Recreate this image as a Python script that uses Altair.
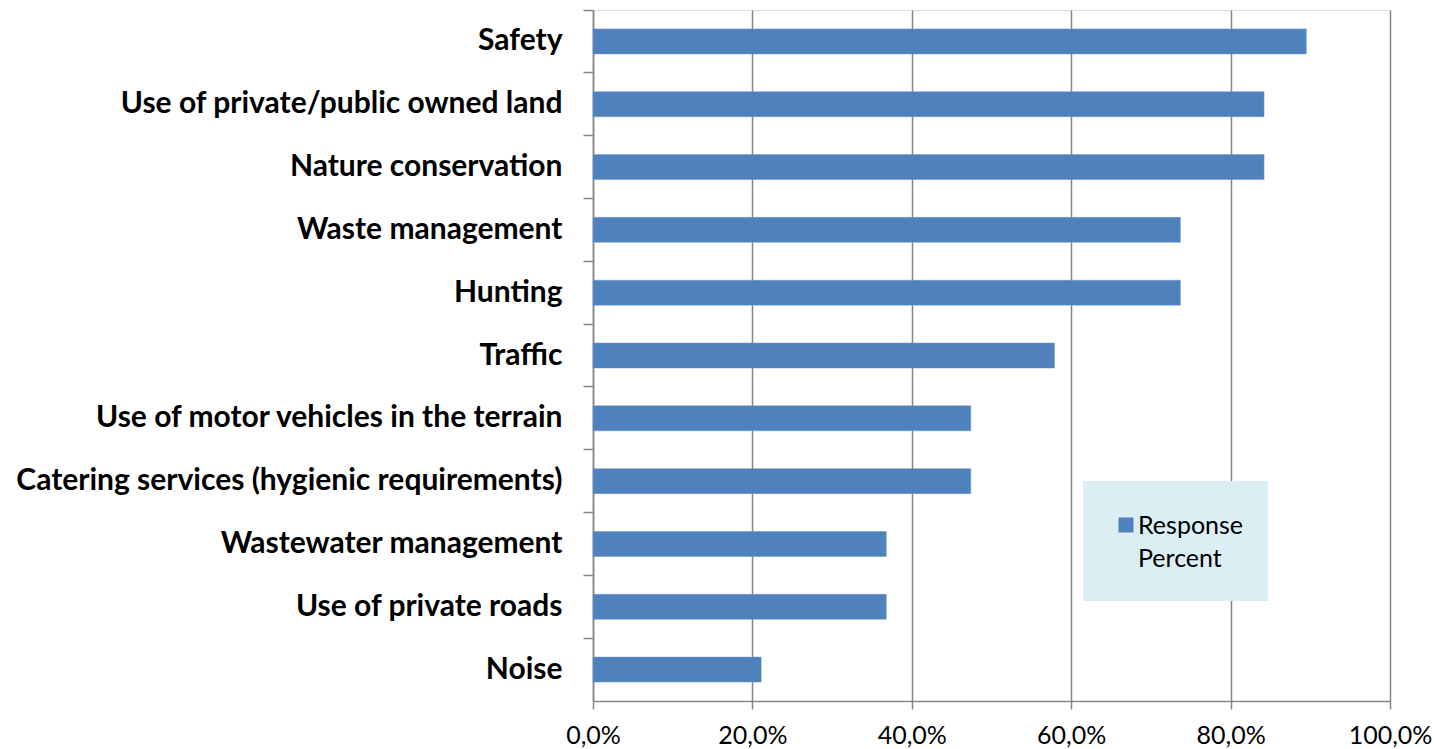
import altair as alt
import pandas as pd

categories = [
    "Safety\u2005",
    "Use of private/public owned land",
    "Nature conservation",
    "Waste management",
    "Hunting",
    "Traffic",
    "Use of motor vehicles in the terrain",
    "Catering services (hygienic requirements)",
    "Wastewater management",
    "Use of private roads",
    "Noise",
]
values = [0.895, 0.842, 0.842, 0.737, 0.737, 0.579, 0.474, 0.474, 0.368, 0.368, 0.211]
series = "Response Percent"
x_ticks = [0, 0.2, 0.4, 0.6, 0.8, 1.0]

df = pd.DataFrame({"category": categories, "value": values})
legend_df = pd.DataFrame({"series": [series]})

FONT = "Lato"
GRID = "#868686"
BAR = "#4F81BD"

bars = (
    alt.Chart(df)
    .mark_bar(size=25, color=BAR, stroke="#6E97CB", strokeWidth=0.5)
    .encode(
        y=alt.Y(
            "category:N",
            sort=categories,
            scale=alt.Scale(paddingInner=0, paddingOuter=0),
            axis=alt.Axis(
                title=None,
                bandPosition=0,
                labelFont=FONT,
                labelFontWeight="bold",
                labelFontSize=30,
                labelColor="#000000",
                labelPadding=21,
                labelLimit=700,
                tickSize=10,
                tickColor=GRID,
                tickWidth=1.5,
                domainColor=GRID,
                domainWidth=1.5,
                grid=False,
            ),
        ),
        x=alt.X(
            "value:Q",
            scale=alt.Scale(domain=[0, 1], nice=False),
            axis=alt.Axis(
                title=None,
                values=x_ticks,
                labelExpr="replace(format(datum.value, '.1%'), '.', ',')",
                labelFont=FONT,
                labelFontSize=25,
                labelColor="#000000",
                labelPadding=14,
                labelFlush=False,
                labelOverlap=False,
                tickSize=8,
                tickColor=GRID,
                tickWidth=1.5,
                domainColor=GRID,
                domainWidth=1.5,
                grid=True,
                gridColor=GRID,
                gridWidth=1.5,
            ),
        ),
    )
)

legend_box = (
    alt.Chart(legend_df)
    .mark_rect(color="#DBEEF3")
    .encode(x=alt.value(490), x2=alt.value(675), y=alt.value(471), y2=alt.value(591))
)
legend_symbol = (
    alt.Chart(legend_df)
    .mark_square(size=225, color=BAR, opacity=1)
    .encode(x=alt.value(533), y=alt.value(515))
)
legend_text = (
    alt.Chart(legend_df)
    .mark_text(
        font=FONT, fontSize=25, color="#000000", align="left",
        baseline="alphabetic", lineHeight=33,
    )
    .encode(x=alt.value(545), y=alt.value(524), text=alt.value(series.split(" ")))
)

chart = (
    alt.layer(bars, legend_box, legend_symbol, legend_text)
    .properties(
        width=797,
        height=691,
        autosize=alt.AutoSizeParams(type="none"),
        padding={"left": 593, "top": 10, "right": 44, "bottom": 48},
    )
    .configure_view(stroke=None)
    .configure(background="white")
)

chart.save("out.html", embed_options={"renderer": "svg", "actions": False})
